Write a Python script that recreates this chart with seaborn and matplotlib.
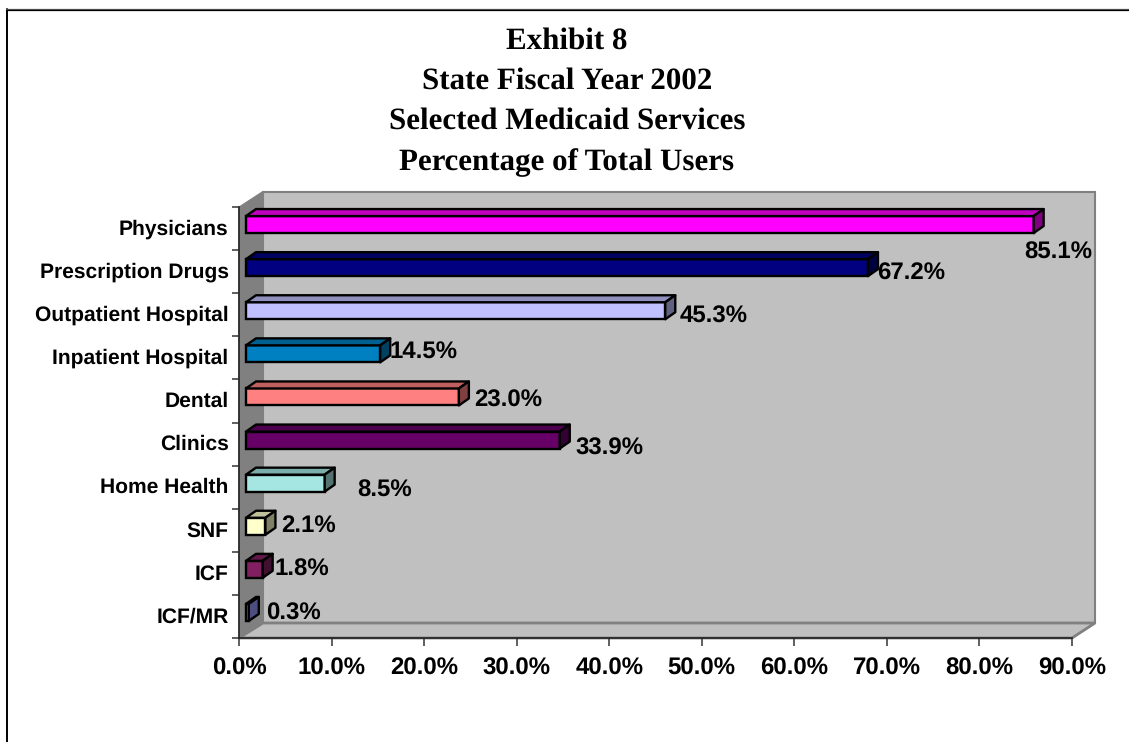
import matplotlib
matplotlib.use("Agg")
import matplotlib.pyplot as plt
from matplotlib.lines import Line2D
from matplotlib.patches import Polygon
from matplotlib.transforms import Affine2D, IdentityTransform, ScaledTranslation
from matplotlib.colors import to_rgb
import seaborn as sns
import pandas as pd

title_lines = ["Exhibit 8", "State Fiscal Year 2002", "Selected Medicaid Services", "Percentage of Total Users"]
categories = ["Physicians", "Prescription Drugs", "Outpatient Hospital", "Inpatient Hospital", "Dental",
              "Clinics", "Home Health", "SNF", "ICF", "ICF/MR"]
values = [85.1, 67.2, 45.3, 14.5, 23.0, 33.9, 8.5, 2.1, 1.8, 0.3]
colors = ["#FF00FF", "#000080", "#C0C0FF", "#0080C0", "#FF8080", "#660066", "#A6E6E2", "#FFFFCC", "#802060", "#9999FF"]
x_ticks = [0, 10, 20, 30, 40, 50, 60, 70, 80, 90]
# hand placed label nudges (px) relative to the bar's end, as in the original
label_nudges = [(25, 28), (43, 6), (48.7, 6), (43, -2), (49, 4), (50, 8), (60, 7), (43, -1), (39, 0), (45, 1)]

W, H = 1129, 742
AX_L, AX_R, AX_T, AX_B = 239, 1072, 207, 638
WALL_DX, WALL_DY = 24, 15
BAR_DX, BAR_DY = 7, 4
SIDE_DX, SIDE_DY = 10, 7

sns.set_theme(style="white")
plt.rcParams["font.family"] = ["Liberation Sans", "DejaVu Sans"]
plt.rcParams["text.hinting"] = "no_hinting"
plt.rcParams["text.hinting_factor"] = 1

fig = plt.figure(figsize=(W / 100, H / 100), dpi=100, facecolor="white")
ax = fig.add_axes([AX_L / W, 1 - AX_B / H, (AX_R - AX_L) / W, (AX_B - AX_T) / H])

df = pd.DataFrame({"category": categories, "value": values})
sns.barplot(data=df, x="value", y="category", hue="category", order=categories, hue_order=categories,
            palette=dict(zip(categories, colors)), legend=False, orient="y", width=0.394,
            saturation=1, edgecolor="black", linewidth=1.7, ax=ax, zorder=3)

ax.set_xlim(0, 90)
ax.set_ylim(9.5, -0.5)
ax.patch.set_visible(False)
ax.set_xlabel("")
ax.set_ylabel("")

# walls, in pixels derived from the axes box
def px(x, y):
    return (x, H - y)

ident = IdentityTransform()
def wall(points, face, edge="#808080", lw=1.5, z=0.5):
    ax.add_patch(Polygon([px(*p) for p in points], closed=True, transform=ident, facecolor=face,
                         edgecolor=edge, linewidth=lw, zorder=z, clip_on=False, joinstyle="miter"))

wall([(AX_L + WALL_DX, AX_T - WALL_DY), (AX_R + WALL_DX - 1, AX_T - WALL_DY),
      (AX_R + WALL_DX - 1, AX_B - WALL_DY), (AX_L + WALL_DX, AX_B - WALL_DY)], "#C0C0C0")
wall([(AX_L, AX_B), (AX_R, AX_B), (AX_R + WALL_DX - 1, AX_B - WALL_DY), (AX_L + WALL_DX, AX_B - WALL_DY)], "#C0C0C0", lw=2.0)
wall([(AX_L, AX_T), (AX_L + WALL_DX - 1, AX_T - WALL_DY), (AX_L + WALL_DX - 1, AX_B - WALL_DY), (AX_L, AX_B)],
     "#808080", edge="#808080", lw=0.7, z=0.6)

# 3-D faces of the bars, taken from the bars the library drew
def shade(c, f):
    return tuple(v * f for v in to_rgb(c))

shift = Affine2D().translate(BAR_DX, BAR_DY)
for patch in list(ax.patches):
    if not hasattr(patch, "get_y"):
        continue
    idx = round(patch.get_y() + patch.get_height() / 2)
    color = colors[idx]
    x0, x1 = patch.get_x(), patch.get_x() + patch.get_width()
    y0, y1 = sorted([patch.get_y(), patch.get_y() + patch.get_height()])
    (dx0, dy_top), (dx1, dy_bot) = (ax.transData + shift).transform([(x0, y0), (x1, y1)])
    patch.set_transform(ax.transData + shift)
    patch.set_clip_on(False)
    top = [(dx0, dy_top), (dx1, dy_top), (dx1 + SIDE_DX, dy_top + SIDE_DY), (dx0 + SIDE_DX, dy_top + SIDE_DY)]
    side = [(dx1, dy_top), (dx1 + SIDE_DX, dy_top + SIDE_DY), (dx1 + SIDE_DX, dy_bot + SIDE_DY), (dx1, dy_bot)]
    for pts, f in ((top, 0.75), (side, 0.5)):
        ax.add_patch(Polygon(pts, closed=True, transform=ident, facecolor=shade(color, f), edgecolor="black",
                             linewidth=1.7, zorder=3, clip_on=False, joinstyle="round"))

# data labels
for i, (v, (ndx, ndy)) in enumerate(zip(values, label_nudges)):
    ax.annotate(f"{v:.1f}%", xy=(v, i), xycoords="data", xytext=(BAR_DX + ndx, BAR_DY - ndy),
                textcoords="offset pixels", ha="center", va="center", fontsize=17.2, fontweight="bold",
                color="black", annotation_clip=False, zorder=5)

# axes
for s in ("top", "right"):
    ax.spines[s].set_visible(False)
for s in ("left", "bottom"):
    ax.spines[s].set_color("#222222")
    ax.spines[s].set_linewidth(1.2)
    ax.spines[s].set_zorder(2)

ax.set_xticks(x_ticks)
ax.set_xticklabels([f"{t:.1f}%" for t in x_ticks], fontsize=17.2, fontweight="bold", color="black")
ax.set_yticks([i - 0.5 for i in range(len(categories) + 1)], labels=[""] * (len(categories) + 1))
ax.set_yticks(range(len(categories)), labels=categories, minor=True)
ax.tick_params(axis="x", which="major", length=6, width=1.2, color="#444444", bottom=True, pad=8.2)
ax.tick_params(axis="y", which="major", length=5.2, width=1.2, color="#444444", left=True)
ax.tick_params(axis="y", which="minor", length=0, pad=7.5, labelsize=15.3, labelcolor="black", left=False)
up = ScaledTranslation(0, 1.5 / 100, fig.dpi_scale_trans)
for lab in ax.get_yticklabels(minor=True):
    lab.set_fontweight("bold")
    lab.set_transform(lab.get_transform() + up)

# title
for line, y in zip(title_lines, [41, 81.5, 121.5, 162.5]):
    fig.text(567 / W, 1 - y / H, line, ha="center", va="center", fontsize=22.3,
             fontweight="bold", family=["Liberation Serif", "DejaVu Serif"], color="black")

# frame
fig.add_artist(Line2D([6.5 / W, 6.5 / W], [0, 1 - 9 / H], color="black", linewidth=1.4, transform=fig.transFigure))
fig.add_artist(Line2D([6 / W, 1], [1 - 8.5 / H, 1 - 8.5 / H], color="#555555", linewidth=0.9, transform=fig.transFigure))
fig.add_artist(Line2D([6 / W, 1], [1 - 9.5 / H, 1 - 9.5 / H], color="black", linewidth=0.9, transform=fig.transFigure))

fig.savefig("out.png", dpi=100, facecolor="white")
